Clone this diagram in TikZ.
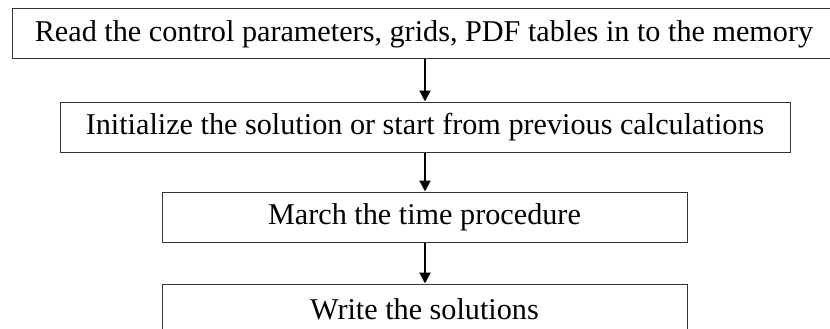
\documentclass[tikz,border=0pt]{standalone}
\usepackage{fontspec}
\setmainfont{Liberation Serif}
\usetikzlibrary{arrows.meta}
\begin{document}
\begin{tikzpicture}[x=1pt,y=-1pt,
  stepbox/.style={draw=black!80,line width=1pt,rectangle,inner sep=0pt,
    minimum height=50pt,font=\fontsize{30.2}{36}\selectfont,text=black},
  flow/.style={draw=black,line width=2pt,-{Triangle[width=11pt,length=11pt]}}]
  \useasboundingbox[clip] (0,0) rectangle (830,329);
  \fill[white] (0,0) rectangle (830,329);
  % processing steps, top to bottom
  \node[stepbox,minimum width=824pt] (read) at (424,34) {Read the control parameters, grids, PDF tables in to the memory};
  \node[stepbox,minimum width=730pt] (init) at (425,127) {Initialize the solution or start from previous calculations};
  \node[stepbox,minimum width=525pt] (march) at (424.5,217) {March the time procedure};
  \node[stepbox,minimum width=525pt] (write) at (424.5,309) {Write the solutions};
  % arrows between the steps
  \draw[flow] (read.south -| 425,0) -- (init.north -| 425,0);
  \draw[flow] (init.south -| 425,0) -- (march.north -| 425,0);
  \draw[flow] (march.south -| 425,0) -- (write.north -| 425,0);
\end{tikzpicture}
\end{document}
